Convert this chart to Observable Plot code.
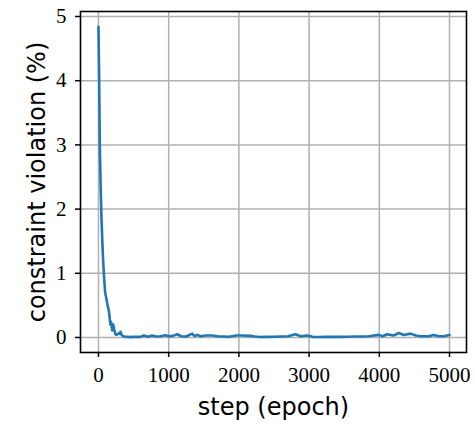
<!DOCTYPE html>
<html>
<head>
<meta charset="utf-8">
<script src="https://cdn.jsdelivr.net/npm/d3@7"></script>
<script src="https://cdn.jsdelivr.net/npm/@observablehq/plot@0.6"></script>
<style>
  html, body { margin: 0; padding: 0; background: #fff; }
  #chart svg { display: block; }
</style>
</head>
<body>
<div id="chart"></div>
<script>
const steps = [0, 10, 19, 30, 43, 60, 76, 95, 110, 130, 147, 160, 170, 181, 195, 210, 225, 242, 260, 280, 300, 313, 330, 350, 385, 420, 460, 500, 550, 600, 646, 700, 765, 820, 880, 955, 1000, 1060, 1120, 1180, 1250, 1335, 1370, 1405, 1460, 1520, 1620, 1700, 1780, 1860, 1960, 2050, 2165, 2230, 2300, 2400, 2500, 2600, 2700, 2806, 2880, 2973, 3050, 3150, 3250, 3350, 3450, 3550, 3650, 3750, 3850, 3993, 4050, 4112, 4200, 4278, 4350, 4444, 4520, 4600, 4700, 4776, 4850, 4920, 5000];
const violation = [4.84, 4.0, 3.0, 2.4, 1.85, 1.35, 1.0, 0.7, 0.62, 0.5, 0.42, 0.3, 0.2, 0.24, 0.11, 0.2, 0.12, 0.05, 0.04, 0.06, 0.06, 0.09, 0.04, 0.02, 0.01, 0.01, 0.005, 0.01, 0.012, 0.01, 0.03, 0.012, 0.03, 0.015, 0.02, 0.035, 0.02, 0.025, 0.05, 0.02, 0.015, 0.06, 0.02, 0.04, 0.02, 0.03, 0.03, 0.02, 0.015, 0.01, 0.03, 0.03, 0.025, 0.015, 0.008, 0.01, 0.012, 0.015, 0.02, 0.05, 0.02, 0.03, 0.01, 0.008, 0.01, 0.012, 0.01, 0.012, 0.015, 0.015, 0.02, 0.04, 0.02, 0.05, 0.03, 0.07, 0.04, 0.06, 0.03, 0.02, 0.02, 0.04, 0.02, 0.02, 0.04];
const xTicks = [0, 1000, 2000, 3000, 4000, 5000];
const yTicks = [0, 1, 2, 3, 4, 5];
const xLabel = "step (epoch)";
const yLabel = "constraint violation (%)";

const data = steps.map((s, i) => ({step: s, v: violation[i]}));

const serif = "'Liberation Serif', 'DejaVu Serif', serif";
const sans = "'DejaVu Sans', sans-serif";

const chart = Plot.plot({
  width: 475,
  height: 432,
  marginLeft: 80,
  marginRight: 9,
  marginTop: 11,
  marginBottom: 80,
  style: {background: "#fff", color: "#000"},
  x: {domain: [-256, 5242], ticks: xTicks},
  y: {domain: [-0.234, 5.078], ticks: yTicks},
  marks: [
    Plot.gridX(xTicks, {stroke: "#b0b0b0", strokeOpacity: 1, strokeWidth: 1.5}),
    Plot.gridY(yTicks, {stroke: "#b0b0b0", strokeOpacity: 1, strokeWidth: 1.5}),
    Plot.line(data, {x: "step", y: "v", stroke: "#1f77b4", strokeWidth: 2.6}),
    Plot.frame({stroke: "#000", strokeWidth: 1.6}),
    Plot.axisX(xTicks, {tickSize: 5, tickPadding: 10, strokeWidth: 1.5, fontSize: 21, fontFamily: serif, label: null, tickFormat: d => String(d)}),
    Plot.axisY(yTicks, {tickSize: 5, tickPadding: 9, strokeWidth: 1.5, fontSize: 21, fontFamily: serif, label: null, tickFormat: d => String(d)}),
    Plot.text([xLabel], {frameAnchor: "bottom", dy: 62, fontSize: 24, fontFamily: sans, fill: "#000"}),
    Plot.text([yLabel], {frameAnchor: "left", textAnchor: "middle", lineAnchor: "middle", dx: -43, rotate: -90, fontSize: 24, fontFamily: sans, fill: "#000"})
  ]
});
document.getElementById("chart").appendChild(chart);
</script>
</body>
</html>
